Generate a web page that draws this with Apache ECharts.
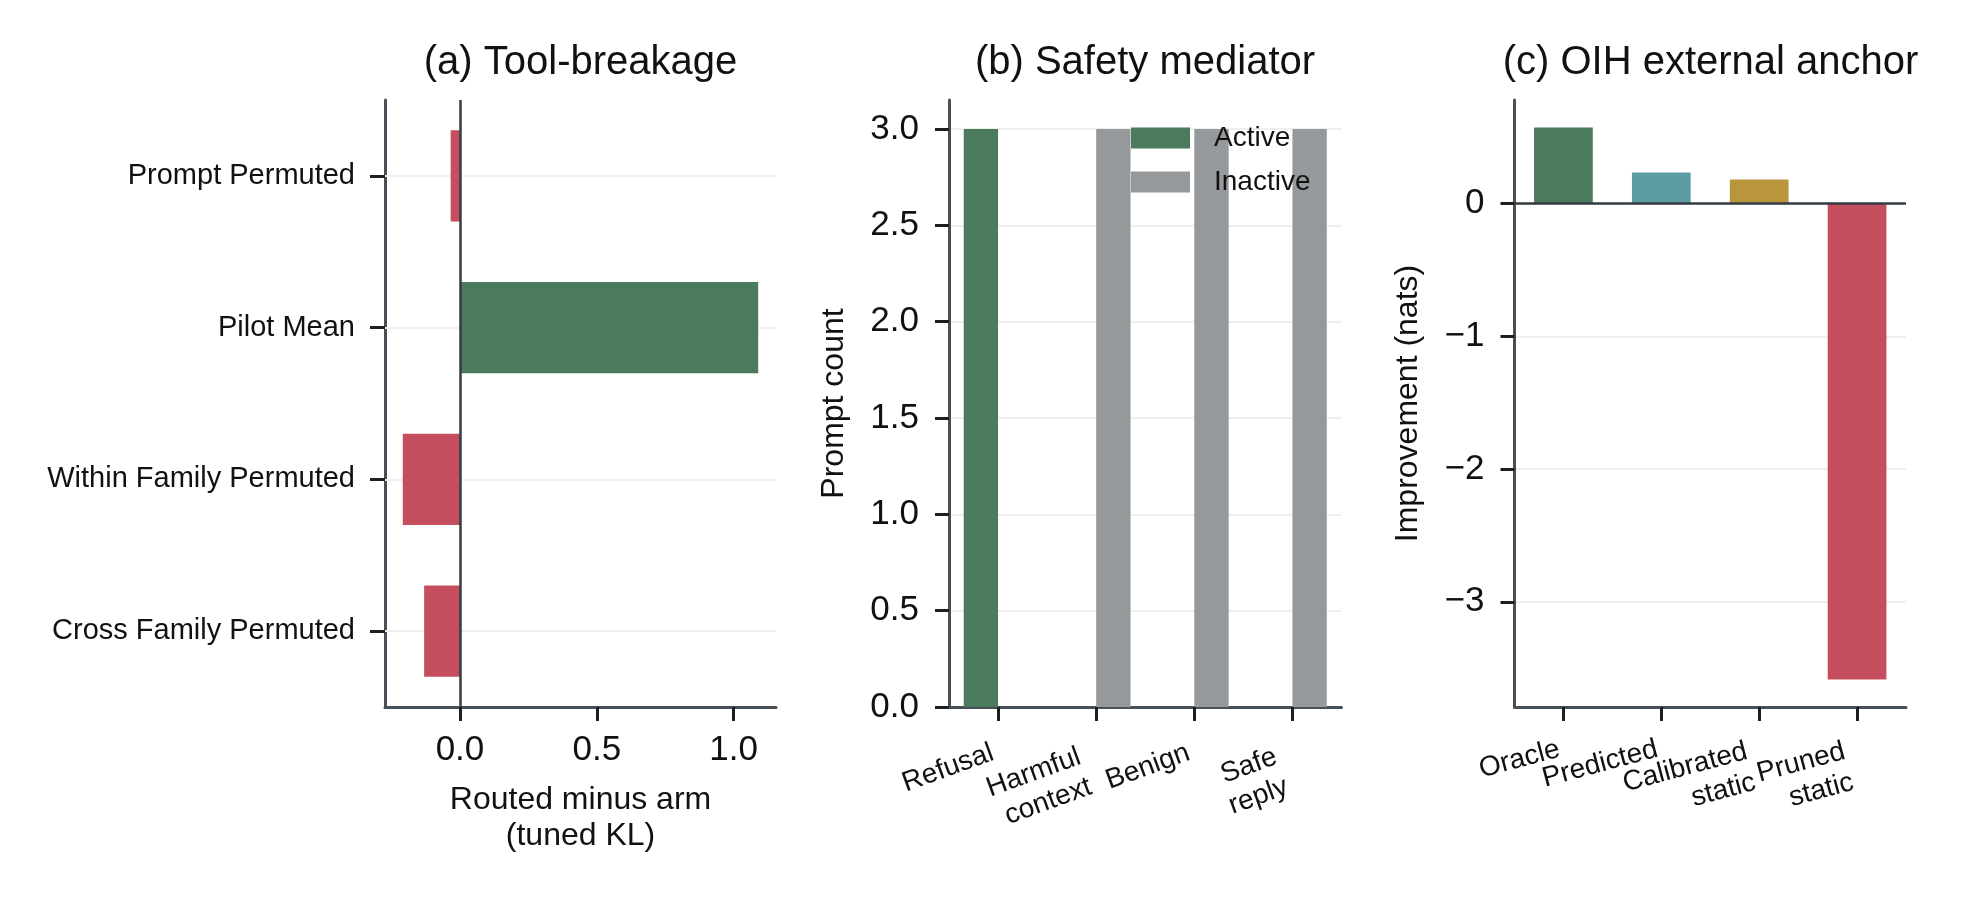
<!DOCTYPE html>
<html>
<head>
<meta charset="utf-8">
<script src="https://cdn.jsdelivr.net/npm/echarts@6/dist/echarts.min.js"></script>
<style>
  html, body { margin: 0; padding: 0; background: #fff; }
  #main { width: 1969px; height: 899px; }
</style>
</head>
<body>
<div id="main"></div>
<script>
// (a) tool-breakage
const toolCats = ['Prompt Permuted', 'Pilot Mean', 'Within Family Permuted', 'Cross Family Permuted'];
const toolVals = [-0.034, 1.090, -0.209, -0.131];
const toolTicks = [0, 0.5, 1.0];

// (b) safety mediator
const safetyCats = ['Refusal', 'Harmful\ncontext', 'Benign', 'Safe\nreply'];
const activeCounts = [3, 0, 0, 0];
const inactiveCounts = [0, 3, 3, 3];
const countTicks = [0, 0.5, 1.0, 1.5, 2.0, 2.5, 3.0];

// (c) OIH external anchor
const anchorCats = ['Oracle', 'Predicted', 'Calibrated\nstatic', 'Pruned\nstatic'];
const anchorVals = [0.574, 0.235, 0.183, -3.585];
const natsTicks = [0, -1, -2, -3];

const FONT = '"Liberation Sans", Arial, Helvetica, sans-serif';
const INK = '#111';
const GREEN = '#4b7a5c';
const RED = '#c54e5e';
const GRAY = '#95999c';
const anchorColors = [GREEN, '#5b9ba2', '#b9953e', RED];
const GRID_LINE = '#f0f0ea';
const LABEL_LH = 32;

// matplotlib style 5% margins, bars stick to zero
function padRange(vals) {
    var lo = Math.min(0, ...vals), hi = Math.max(0, ...vals);
    var m = 0.05 * (hi - lo);
    return [lo < 0 ? lo - m : 0, hi > 0 ? hi + m : 0];
}
const toolRange = padRange(toolVals);
const countRange = padRange(activeCounts.concat(inactiveCounts));
const natsRange = padRange(anchorVals);

const axisLine = { show: true, onZero: false, lineStyle: { color: '#474f57', width: 3 } };
const tickStyle = { color: '#1e1e1e', width: 3 };

// rotated labels: top-right anchored, shifted by line count so the right edge sits at the tick
function rotCats(cats, deg) {
    var r = deg * Math.PI / 180;
    return cats.map(c => ({
        value: c,
        textStyle: {
            align: 'right',
            verticalAlign: 'top',
            lineHeight: LABEL_LH,
            padding: [0, LABEL_LH * c.split('\n').length * Math.tan(r), 0, 0]
        }
    }));
}
function minusFmt(v) {
    return v < 0 ? '\u2212' + Math.abs(v) : String(v);
}
function noLine() {
    return { symbol: ['none', 'none'], silent: true, animation: false, label: { show: false }, emphasis: { disabled: true } };
}

var chartDom = document.getElementById('main');
var myChart = echarts.init(chartDom, null, { renderer: 'canvas' });
var option;

option = {
    animation: false,
    backgroundColor: '#fff',
    textStyle: { fontFamily: FONT, color: INK },
    title: [
        { text: '(a) Tool-breakage', left: 580.5, top: 43, textAlign: 'center', padding: 0,
          textStyle: { fontSize: 40, fontWeight: 'normal', color: INK, fontFamily: FONT } },
        { text: '(b) Safety mediator', left: 1145, top: 43, textAlign: 'center', padding: 0,
          textStyle: { fontSize: 40, fontWeight: 'normal', color: INK, fontFamily: FONT } },
        { text: '(c) OIH external anchor', left: 1710.5, top: 43, textAlign: 'center', padding: 0,
          textStyle: { fontSize: 40, fontWeight: 'normal', color: INK, fontFamily: FONT } }
    ],
    legend: {
        data: ['Active', 'Inactive'],
        orient: 'vertical',
        left: 1131,
        top: 124,
        padding: 0,
        itemWidth: 59,
        itemHeight: 21,
        itemGap: 16,
        icon: 'rect',
        selectedMode: false,
        textStyle: { fontSize: 28, color: INK, fontFamily: FONT, padding: [0, 0, 0, 19] }
    },
    grid: [
        { left: 385, top: 100, width: 391, height: 607, outerBoundsMode: 'none' },
        { left: 949, top: 100, width: 392.5, height: 607, outerBoundsMode: 'none' },
        { left: 1514.5, top: 100, width: 391.5, height: 607, outerBoundsMode: 'none' }
    ],
    xAxis: [
        {
            type: 'value', gridIndex: 0,
            min: toolRange[0], max: toolRange[1],
            axisLine: axisLine,
            axisTick: { show: true, length: 14, lineStyle: tickStyle, customValues: toolTicks },
            axisLabel: { customValues: toolTicks, formatter: v => v.toFixed(1), fontSize: 35, margin: 26, color: INK },
            splitLine: { show: false },
            name: 'Routed minus arm\n(tuned KL)',
            nameLocation: 'middle', nameGap: 75,
            nameTextStyle: { fontSize: 32, lineHeight: 36, color: INK, align: 'center' }
        },
        {
            type: 'category', gridIndex: 1,
            data: rotCats(safetyCats, 20),
            axisLine: axisLine,
            axisTick: { show: true, alignWithLabel: true, length: 14, lineStyle: tickStyle },
            axisLabel: { interval: 0, rotate: 20, align: 'right', verticalAlign: 'top',
                         fontSize: 28, lineHeight: LABEL_LH, margin: 26, color: INK },
            splitLine: { show: false }
        },
        {
            type: 'category', gridIndex: 2,
            data: rotCats(anchorCats, 15),
            axisLine: axisLine,
            axisTick: { show: true, alignWithLabel: true, length: 14, lineStyle: tickStyle },
            axisLabel: { interval: 0, rotate: 15, align: 'right', verticalAlign: 'top',
                         fontSize: 28, lineHeight: LABEL_LH, margin: 24, color: INK },
            splitLine: { show: false }
        }
    ],
    yAxis: [
        {
            type: 'category', gridIndex: 0, inverse: true,
            data: toolCats,
            axisLine: axisLine,
            axisTick: { show: true, alignWithLabel: true, length: 15, lineStyle: tickStyle },
            axisLabel: { interval: 0, fontSize: 29, margin: 30, color: INK },
            splitLine: { show: false }
        },
        {
            type: 'value', gridIndex: 1,
            min: countRange[0], max: countRange[1],
            axisLine: axisLine,
            axisTick: { show: true, length: 14, lineStyle: tickStyle, customValues: countTicks },
            axisLabel: { customValues: countTicks, formatter: v => v.toFixed(1), fontSize: 35, margin: 30, color: INK },
            splitLine: { show: true, lineStyle: { color: GRID_LINE, width: 2 } },
            name: 'Prompt count',
            nameLocation: 'middle', nameGap: 99,
            nameTextStyle: { fontSize: 32, color: INK }
        },
        {
            type: 'value', gridIndex: 2,
            min: natsRange[0], max: natsRange[1],
            axisLine: axisLine,
            axisTick: { show: true, length: 14, lineStyle: tickStyle, customValues: natsTicks },
            axisLabel: { customValues: natsTicks, formatter: minusFmt, fontSize: 35, margin: 30, color: INK },
            splitLine: { show: true, lineStyle: { color: GRID_LINE, width: 2 } },
            name: 'Improvement (nats)',
            nameLocation: 'middle', nameGap: 90,
            nameTextStyle: { fontSize: 32, color: INK }
        }
    ],
    series: [
        {
            name: 'tool',
            type: 'bar',
            xAxisIndex: 0, yAxisIndex: 0,
            data: toolVals,
            barWidth: '60%',
            itemStyle: { color: p => (p.value >= 0 ? GREEN : RED) },
            markLine: Object.assign(noLine(), {
                z: 1,
                lineStyle: { color: GRID_LINE, width: 2, type: 'solid' },
                data: toolCats.map(c => ({ yAxis: c }))
            })
        },
        {
            name: 'toolZero',
            type: 'line',
            xAxisIndex: 0, yAxisIndex: 0,
            data: [],
            markLine: Object.assign(noLine(), {
                z: 5,
                lineStyle: { color: '#343b42', width: 2.5, type: 'solid' },
                data: [{ xAxis: 0 }]
            })
        },
        {
            name: 'Active',
            type: 'bar',
            xAxisIndex: 1, yAxisIndex: 1,
            data: activeCounts,
            barWidth: '35%',
            barGap: '0%',
            itemStyle: { color: GREEN }
        },
        {
            name: 'Inactive',
            type: 'bar',
            xAxisIndex: 1, yAxisIndex: 1,
            data: inactiveCounts,
            barWidth: '35%',
            barGap: '0%',
            itemStyle: { color: GRAY }
        },
        {
            name: 'anchor',
            type: 'bar',
            xAxisIndex: 2, yAxisIndex: 2,
            data: anchorVals,
            barWidth: '60%',
            itemStyle: { color: p => anchorColors[p.dataIndex] },
            markLine: Object.assign(noLine(), {
                z: 5,
                lineStyle: { color: '#343b42', width: 2.5, type: 'solid' },
                data: [{ yAxis: 0 }]
            })
        }
    ]
};

option && myChart.setOption(option);
</script>
</body>
</html>
